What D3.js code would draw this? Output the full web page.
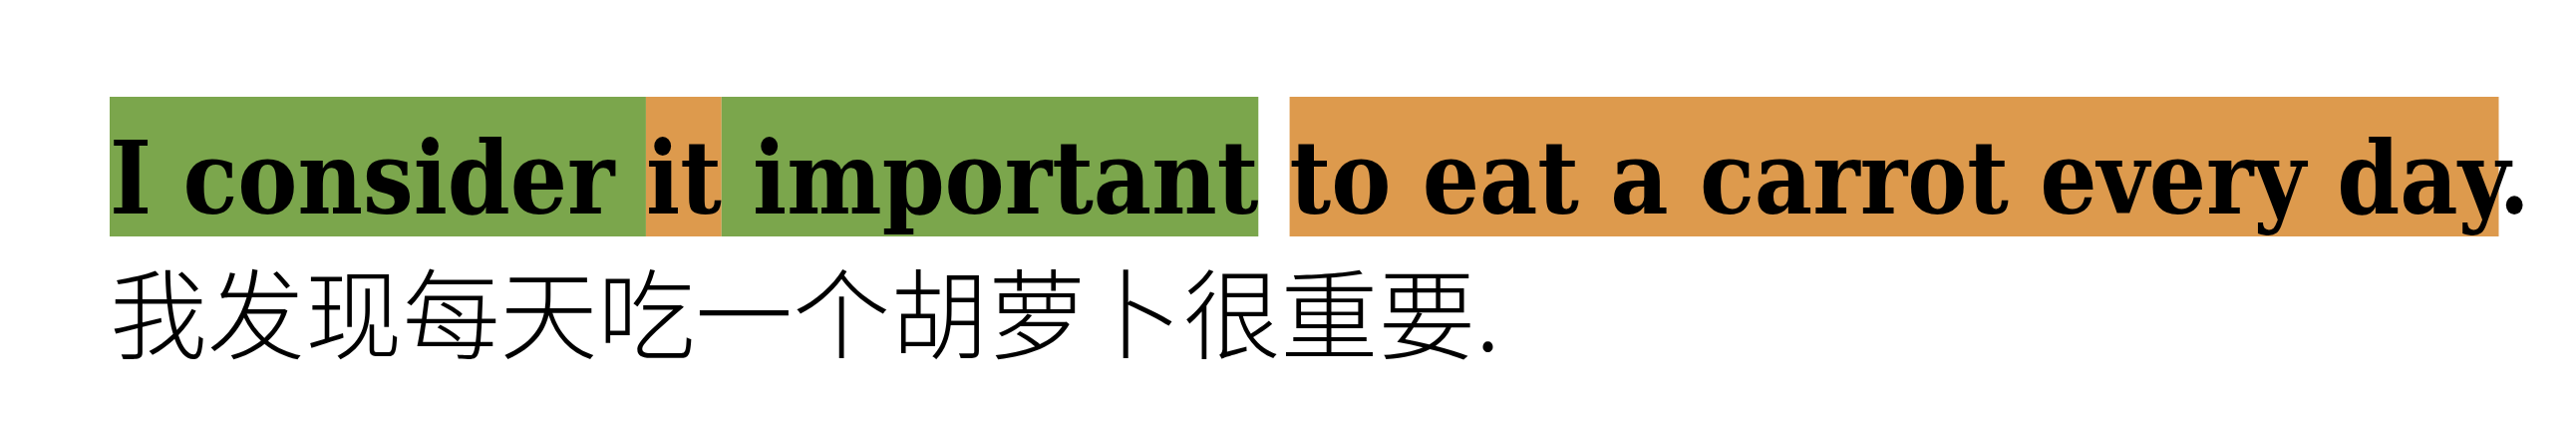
<!DOCTYPE html>
<html>
<head>
<meta charset="utf-8">
<script src="https://cdn.jsdelivr.net/npm/d3@7"></script>
<style>
  body { margin: 0; background: #fff; }
</style>
</head>
<body>
<svg id="chart"></svg>
<script>
// sentence pieces and their highlight class
const segments = ["I consider ", "it", " important", " ", "to eat a carrot every day", "."];
const segmentKinds = ["green", "orange", "green", "none", "orange", "none"];
const translation = "我发现每天吃一个胡萝卜很重要.";

const width = 2584, height = 432;
const color = d3.scaleOrdinal()
  .domain(["green", "orange", "none"])
  .range(["#7ba64c", "#dd9a4d", "none"]);

const svg = d3.select("#chart").attr("width", width).attr("height", height);
const boxes = svg.append("g");

const left = 110, sentenceWidth = 2428, baseline = 214;
const sentence = segments.join("");

const en = svg.append("text")
  .attr("x", left).attr("y", baseline)
  .style("font-family", "'DejaVu Serif Condensed', 'DejaVu Serif', serif")
  .style("font-weight", "bold")
  .style("font-size", "100px")
  .text(sentence);
// scale font so the sentence spans the same width as the reference
const w0 = en.node().getComputedTextLength();
en.style("font-size", (100 * sentenceWidth / w0) + "px");

let idx = 0;
const spans = segments.map((s, i) => {
  const start = idx, end = idx + s.length - 1;
  idx += s.length;
  const node = en.node();
  return {
    kind: segmentKinds[i],
    x0: node.getStartPositionOfChar(start).x,
    x1: node.getEndPositionOfChar(end).x
  };
});

const y = d3.scaleLinear().domain([0, 1]).range([237, 97]);
boxes.selectAll("rect")
  .data(spans.filter(d => d.kind !== "none"))
  .join("rect")
  .attr("x", d => d.x0)
  .attr("width", d => d.x1 - d.x0)
  .attr("y", y(1))
  .attr("height", y(0) - y(1))
  .attr("fill", d => color(d.kind));

const zh = svg.append("text")
  .attr("x", left).attr("y", 352)
  .style("font-family", "'Noto Sans CJK SC', sans-serif")
  .style("font-weight", 300)
  .style("font-size", "100px")
  .text(translation);
const w1 = zh.node().getComputedTextLength();
zh.style("font-size", (100 * 1395 / w1) + "px");
</script>
</body>
</html>
